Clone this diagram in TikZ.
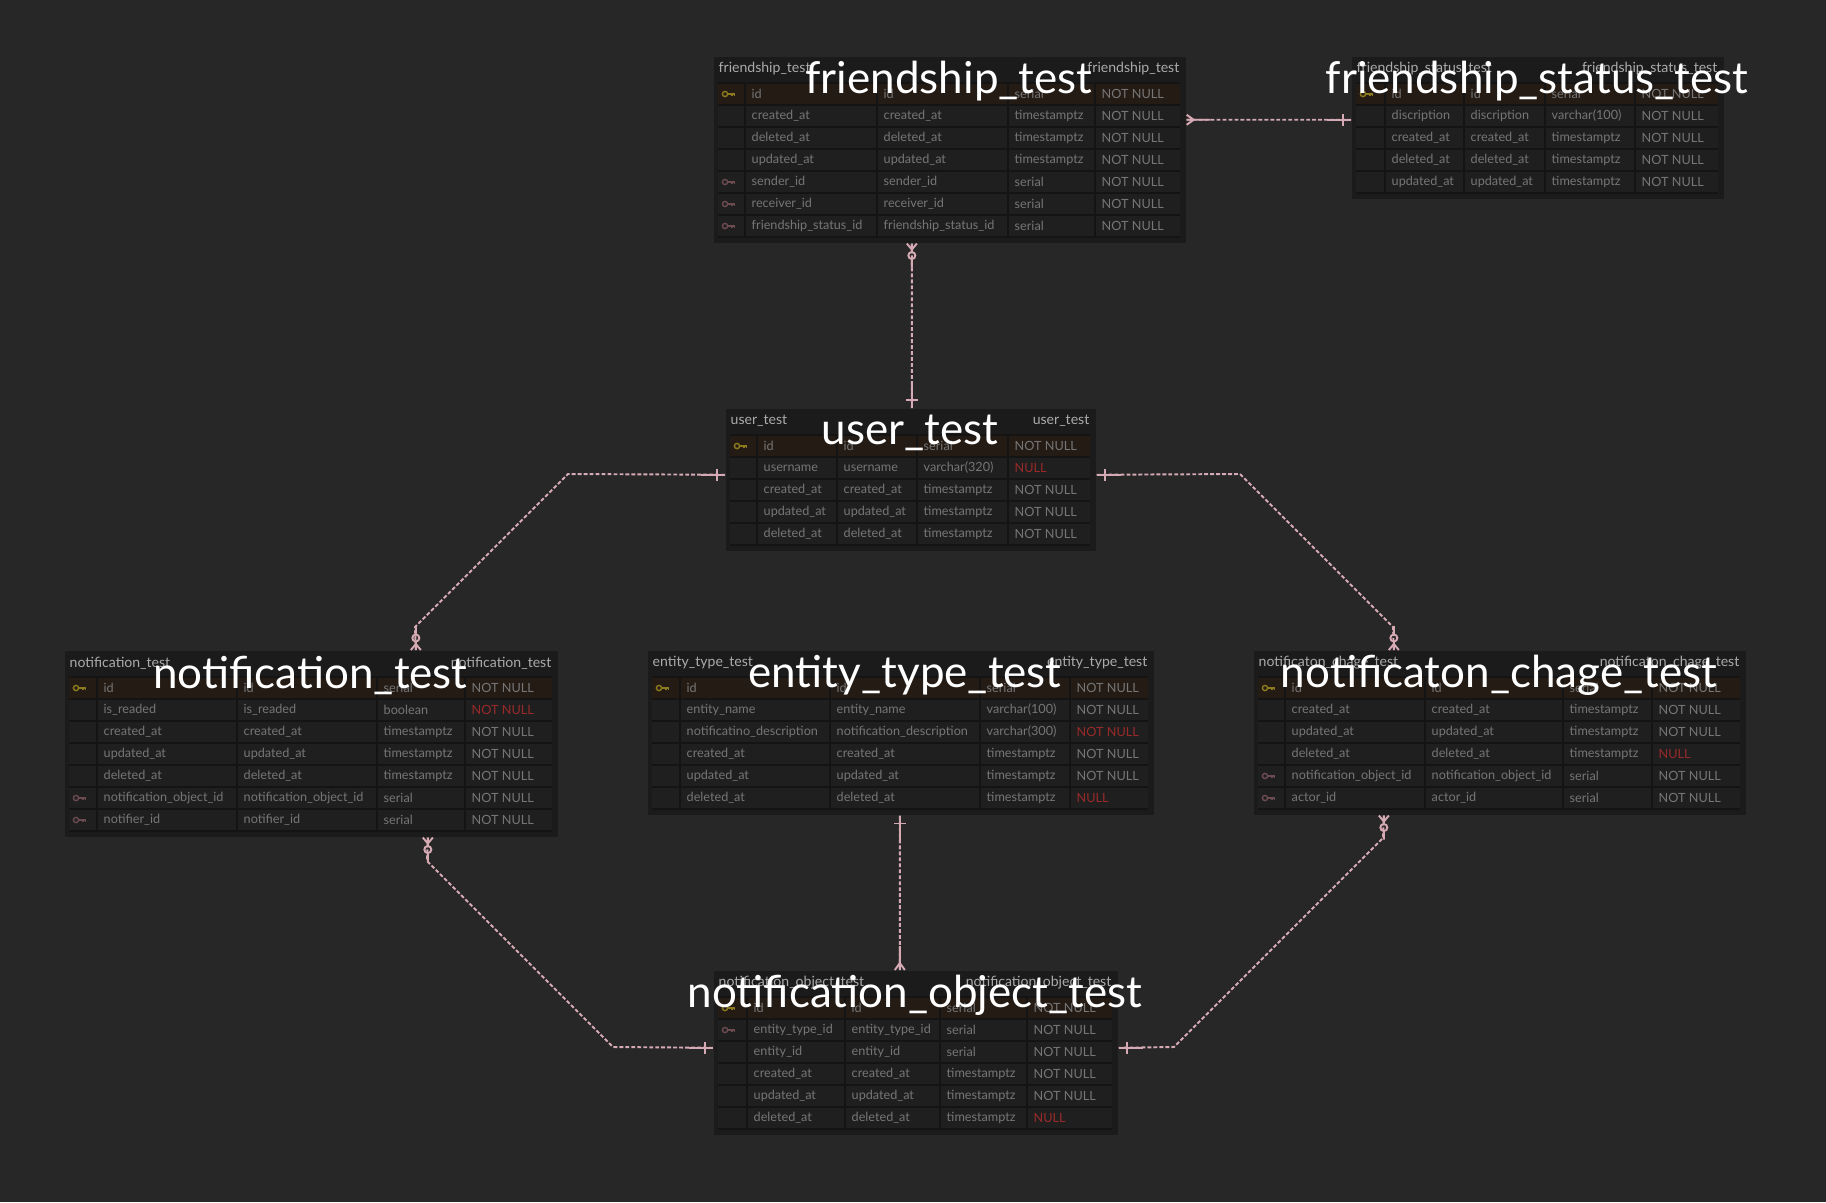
\documentclass[tikz,border=0pt]{standalone}
\usepackage{fontspec}
\setmainfont{Lato}
\usetikzlibrary{calc}
\definecolor{bgcol}{HTML}{272727}
\definecolor{tblbg}{HTML}{1B1B1B}
\definecolor{cellbg}{HTML}{1F1F1F}
\definecolor{pkbg}{HTML}{241B15}
\definecolor{gridcol}{HTML}{141414}
\definecolor{celltxt}{HTML}{767676}
\definecolor{hdrtxt}{HTML}{ABABAB}
\definecolor{nullred}{HTML}{9A2A2A}
\definecolor{pkcol}{HTML}{8C7A1E}
\definecolor{fkcol}{HTML}{6B4A52}
\definecolor{relpink}{HTML}{D6AAB4}

\newcommand{\nul}[1]{\textcolor{nullred}{#1}}
\newcommand{\setcols}[4]{\def\sepA{#1}\def\sepB{#2}\def\sepC{#3}\def\sepD{#4}}
% frame of a table: name, width, rows, small title
\newcommand{\ertable}[4]{%
  \fill[cellbg] (5,27) rectangle (#2-5,27+22*#3);
  \fill[pkbg] (5,27) rectangle (#2-5,49);
  \foreach \j in {0,...,#3} \draw[grid] (5,27+22*\j) -- (#2-5,27+22*\j);
  \foreach \s in {\sepA,\sepB,\sepC,\sepD} \draw[grid] (\s,27) -- (\s,27+22*#3);
  \node[hdr, anchor=west] (#1-hl) at (5,13) {#4};
  \node[hdr, anchor=east] (#1-hr) at (#2-5,13) {#4};
}
% one row: name, number, key, four cells
\newcommand{\errow}[7]{%
  \pgfmathsetmacro\ry{16+22*#2}
  \pic[#3] at (16,\ry) {keyicon};
  \node[cell] (#1-#2-a) at (\sepA+6,\ry) {#4};
  \node[cell] (#1-#2-b) at (\sepB+6,\ry) {#5};
  \node[cell] (#1-#2-c) at (\sepC+6,\ry) {#6};
  \node[cell] (#1-#2-d) at (\sepD+6,\ry) {#7};
}

\tikzset{
  tbl/.style={fill=tblbg, inner sep=0pt, anchor=north west},
  cell/.style={font=\fontsize{3.6}{4}\selectfont, text=celltxt, anchor=west, inner sep=0pt},
  hdr/.style={font=\fontsize{4}{5}\selectfont, text=hdrtxt, inner sep=0pt},
  bigtitle/.style={font=\fontsize{12.5}{14}\selectfont, text=white, inner sep=0pt},
  grid/.style={draw=gridcol, line width=0.4pt},
  rel/.style={draw=relpink, line width=0.55pt, dash pattern=on 1.1pt off 0.6pt},
  relend/.style={draw=relpink, line width=0.55pt, solid},
  pk/.style={color=pkcol},
  fk/.style={color=fkcol},
  no/.style={opacity=0},
  pics/keyicon/.style={code={
    \draw[line width=0.4pt] (-4,0) circle (2.6);
    \draw[line width=0.4pt] (-1.4,0) -- (6,0) (3,0) -- (3,2) (5.5,0) -- (5.5,2);
  }},
  pics/onemark/.style={code={
    \draw[relend] (0,0) -- (24,0) (8,-6) -- (8,6);
  }},
  pics/manymark/.style={code={
    \draw[relend] (0,-5) -- (7,0) -- (0,5) (0,0) -- (24,0);
  }},
  pics/zmanymark/.style={code={
    \draw[relend] (0,-5) -- (6,0) -- (0,5) (0,0) -- (8.5,0) (15.5,0) -- (24,0);
    \draw[relend] (12,0) circle (3.5);
  }},
}

\begin{document}
\begin{tikzpicture}[x=0.01cm,y=-0.01cm]
  \fill[bgcol] (0,0) rectangle (1826,1202);
  \useasboundingbox (0,0) rectangle (1826,1202);

  % friendship_test
  \begin{scope}[shift={(713,56)}]
    \setcols{32}{164}{295}{382}
    \node[tbl, minimum width=47.2mm, minimum height=18.6mm] (fship) at (0,0) {};
    \ertable{fship}{472}{7}{friendship\_test}
    \foreach \kt/\ta/\tb/\tc/\td [count=\i] in {
        pk/id/id/serial/NOT NULL,
        no/created\_at/created\_at/timestamptz/NOT NULL,
        no/deleted\_at/deleted\_at/timestamptz/NOT NULL,
        no/updated\_at/updated\_at/timestamptz/NOT NULL,
        fk/sender\_id/sender\_id/serial/NOT NULL,
        fk/receiver\_id/receiver\_id/serial/NOT NULL,
        fk/friendship\_status\_id/friendship\_status\_id/serial/NOT NULL}
      \errow{fship}{\i}{\kt}{\ta}{\tb}{\tc}{\td};
    \node[bigtitle] (fship-t) at (236,25) {friendship\_test};
  \end{scope}

  % friendship_status_test
  \begin{scope}[shift={(1351,56)}]
    \setcols{34}{113}{194}{284}
    \node[tbl, minimum width=37.2mm, minimum height=14.2mm] (fstat) at (0,0) {};
    \ertable{fstat}{372}{5}{friendship\_status\_test}
    \foreach \kt/\ta/\tb/\tc/\td [count=\i] in {
        pk/id/id/serial/NOT NULL,
        no/discription/discription/varchar(100)/NOT NULL,
        no/created\_at/created\_at/timestamptz/NOT NULL,
        no/deleted\_at/deleted\_at/timestamptz/NOT NULL,
        no/updated\_at/updated\_at/timestamptz/NOT NULL}
      \errow{fstat}{\i}{\kt}{\ta}{\tb}{\tc}{\td};
    \node[bigtitle] (fstat-t) at (186,25) {friendship\_status\_test};
  \end{scope}

  % user_test
  \begin{scope}[shift={(725,408)}]
    \setcols{32}{112}{192}{283}
    \node[tbl, minimum width=37mm, minimum height=14.2mm] (user) at (0,0) {};
    \ertable{user}{370}{5}{user\_test}
    \foreach \kt/\ta/\tb/\tc/\td [count=\i] in {
        pk/id/id/serial/NOT NULL,
        no/username/username/varchar(320)/\nul{NULL},
        no/created\_at/created\_at/timestamptz/NOT NULL,
        no/updated\_at/updated\_at/timestamptz/NOT NULL,
        no/deleted\_at/deleted\_at/timestamptz/NOT NULL}
      \errow{user}{\i}{\kt}{\ta}{\tb}{\tc}{\td};
    \node[bigtitle] (user-t) at (185,25) {user\_test};
  \end{scope}

  % notification_test
  \begin{scope}[shift={(64,650)}]
    \setcols{33}{173}{313}{401}
    \node[tbl, minimum width=49.3mm, minimum height=18.6mm] (notif) at (0,0) {};
    \ertable{notif}{493}{7}{notification\_test}
    \foreach \kt/\ta/\tb/\tc/\td [count=\i] in {
        pk/id/id/serial/NOT NULL,
        no/is\_readed/is\_readed/boolean/\nul{NOT NULL},
        no/created\_at/created\_at/timestamptz/NOT NULL,
        no/updated\_at/updated\_at/timestamptz/NOT NULL,
        no/deleted\_at/deleted\_at/timestamptz/NOT NULL,
        fk/notification\_object\_id/notification\_object\_id/serial/NOT NULL,
        fk/notifier\_id/notifier\_id/serial/NOT NULL}
      \errow{notif}{\i}{\kt}{\ta}{\tb}{\tc}{\td};
    \node[bigtitle] (notif-t) at (246.5,25) {notification\_test};
  \end{scope}

  % entity_type_test
  \begin{scope}[shift={(647,650)}]
    \setcols{33}{183}{333}{423}
    \node[tbl, minimum width=50.6mm, minimum height=16.4mm] (etype) at (0,0) {};
    \ertable{etype}{506}{6}{entity\_type\_test}
    \foreach \kt/\ta/\tb/\tc/\td [count=\i] in {
        pk/id/id/serial/NOT NULL,
        no/entity\_name/entity\_name/varchar(100)/NOT NULL,
        no/notificatino\_description/notification\_description/varchar(300)/\nul{NOT NULL},
        no/created\_at/created\_at/timestamptz/NOT NULL,
        no/updated\_at/updated\_at/timestamptz/NOT NULL,
        no/deleted\_at/deleted\_at/timestamptz/\nul{NULL}}
      \errow{etype}{\i}{\kt}{\ta}{\tb}{\tc}{\td};
    \node[bigtitle] (etype-t) at (258,25) {entity\_type\_test};
  \end{scope}

  % notificaton_chage_test
  \begin{scope}[shift={(1253,650)}]
    \setcols{32}{172}{310}{399}
    \node[tbl, minimum width=49.2mm, minimum height=16.4mm] (chage) at (0,0) {};
    \ertable{chage}{492}{6}{notificaton\_chage\_test}
    \foreach \kt/\ta/\tb/\tc/\td [count=\i] in {
        pk/id/id/serial/NOT NULL,
        no/created\_at/created\_at/timestamptz/NOT NULL,
        no/updated\_at/updated\_at/timestamptz/NOT NULL,
        no/deleted\_at/deleted\_at/timestamptz/\nul{NULL},
        fk/notification\_object\_id/notification\_object\_id/serial/NOT NULL,
        fk/actor\_id/actor\_id/serial/NOT NULL}
      \errow{chage}{\i}{\kt}{\ta}{\tb}{\tc}{\td};
    \node[bigtitle] (chage-t) at (246,25) {notificaton\_chage\_test};
  \end{scope}

  % notification_object_test
  \begin{scope}[shift={(713,970)}]
    \setcols{34}{132}{227}{314}
    \node[tbl, minimum width=40.4mm, minimum height=16.4mm] (nobj) at (0,0) {};
    \ertable{nobj}{404}{6}{notification\_object\_test}
    \foreach \kt/\ta/\tb/\tc/\td [count=\i] in {
        pk/id/id/serial/NOT NULL,
        fk/entity\_type\_id/entity\_type\_id/serial/NOT NULL,
        no/entity\_id/entity\_id/serial/NOT NULL,
        no/created\_at/created\_at/timestamptz/NOT NULL,
        no/updated\_at/updated\_at/timestamptz/NOT NULL,
        no/deleted\_at/deleted\_at/timestamptz/\nul{NULL}}
      \errow{nobj}{\i}{\kt}{\ta}{\tb}{\tc}{\td};
    \node[bigtitle] (nobj-t) at (202,25) {notification\_object\_test};
  \end{scope}

  % relations
  \coordinate (ul1) at (568,474);
  \coordinate (ul2) at (415,627);
  \coordinate (ur1) at (1240,474);
  \coordinate (ur2) at (1393,627);
  \coordinate (bl1) at (427,861);
  \coordinate (bl2) at (613,1047);
  \coordinate (br1) at (1383,838);
  \coordinate (br2) at (1174,1047);

  \draw[rel] ($(fship.east)+(0,-30)$) -- ($(fstat.west)+(0,-8)$);
  \pic at ($(fship.east)+(0,-30)$) {manymark};
  \pic[rotate=180] at ($(fstat.west)+(0,-8)$) {onemark};

  \draw[rel] ($(fship.south)+(-38,0)$) -- ($(user.north)+(1,0)$);
  \pic[rotate=-90] at ($(fship.south)+(-38,0)$) {zmanymark};
  \pic[rotate=90] at ($(user.north)+(1,0)$) {onemark};

  \draw[rel] ($(user.west)+(0,-5)$) -- (ul1) -- (ul2) -- ($(notif.north)+(104.5,0)$);
  \pic[rotate=180] at ($(user.west)+(0,-5)$) {onemark};
  \pic[rotate=90] at ($(notif.north)+(104.5,0)$) {zmanymark};

  \draw[rel] ($(user.east)+(0,-5)$) -- (ur1) -- (ur2) -- ($(chage.north)+(-106,0)$);
  \pic at ($(user.east)+(0,-5)$) {onemark};
  \pic[rotate=90] at ($(chage.north)+(-106,0)$) {zmanymark};

  \draw[rel] ($(etype.south)+(-1,0)$) -- ($(nobj.north)+(-16,0)$);
  \pic[rotate=-90] at ($(etype.south)+(-1,0)$) {onemark};
  \pic[rotate=90] at ($(nobj.north)+(-16,0)$) {manymark};

  \draw[rel] ($(notif.south)+(116.5,0)$) -- (bl1) -- (bl2) -- ($(nobj.west)+(0,-5)$);
  \pic[rotate=-90] at ($(notif.south)+(116.5,0)$) {zmanymark};
  \pic[rotate=180] at ($(nobj.west)+(0,-5)$) {onemark};

  \draw[rel] ($(chage.south)+(-116,0)$) -- (br1) -- (br2) -- ($(nobj.east)+(0,-5)$);
  \pic[rotate=-90] at ($(chage.south)+(-116,0)$) {zmanymark};
  \pic at ($(nobj.east)+(0,-5)$) {onemark};
\end{tikzpicture}
\end{document}
